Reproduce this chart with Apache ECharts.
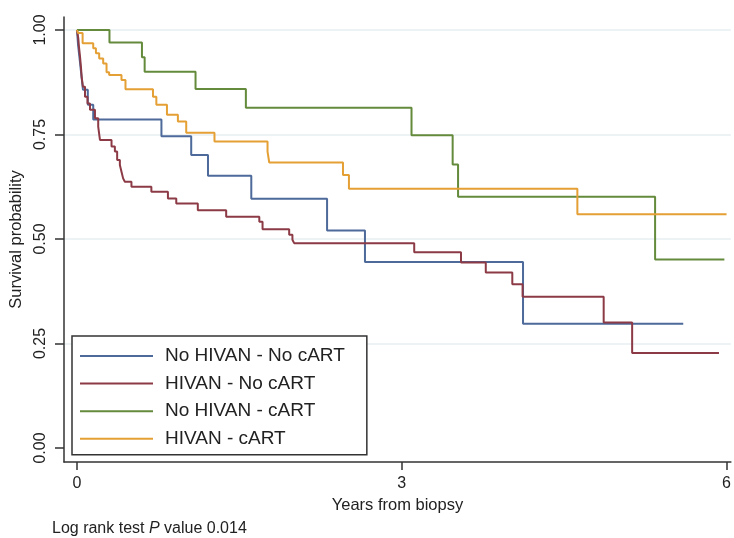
<!DOCTYPE html>
<html>
<head>
<meta charset="utf-8">
<script src="https://cdn.jsdelivr.net/npm/echarts@6/dist/echarts.min.js"></script>
<style>
html,body{margin:0;padding:0;background:#fff;}
#chart{width:734px;height:538px;}
</style>
</head>
<body>
<div id="chart"></div>
<script>
// Series names
var seriesNames = ['No HIVAN - No cART', 'HIVAN - No cART', 'No HIVAN - cART', 'HIVAN - cART'];

// Kaplan-Meier step data (time in years, survival after event)
var blueT = [0, 0.01, 0.025, 0.04, 0.055, 0.10, 0.15, 0.78, 1.055, 1.21, 1.61, 2.31, 2.66, 4.12, 5.60];
var blueS = [1.00, 0.964, 0.929, 0.893, 0.857, 0.821, 0.786, 0.746, 0.701, 0.651, 0.596, 0.520, 0.445, 0.297, 0.297];

var redT = [0, 0.012, 0.018, 0.028, 0.037, 0.043, 0.055, 0.074, 0.097, 0.12, 0.166, 0.196, 0.212, 0.319, 0.350, 0.371, 0.396, 0.411, 0.426, 0.442, 0.503, 0.687, 0.840, 0.917, 1.116, 1.378, 1.684, 1.714, 1.960, 1.990, 2.006, 3.115, 3.547, 3.776, 4.021, 4.116, 4.865, 5.128, 5.93];
var redS = [1.00, 0.98, 0.96, 0.936, 0.91, 0.888, 0.864, 0.840, 0.824, 0.809, 0.789, 0.769, 0.737, 0.721, 0.709, 0.689, 0.677, 0.661, 0.645, 0.637, 0.625, 0.613, 0.597, 0.585, 0.569, 0.553, 0.541, 0.523, 0.510, 0.498, 0.490, 0.468, 0.444, 0.420, 0.392, 0.362, 0.300, 0.227, 0.227];

var greenT = [0, 0.30, 0.60, 0.625, 1.095, 1.56, 3.09, 3.47, 3.52, 5.34, 5.98];
var greenS = [1.00, 0.970, 0.935, 0.900, 0.859, 0.814, 0.748, 0.678, 0.601, 0.451, 0.451];

var orangeT = [0, 0.009, 0.052, 0.150, 0.175, 0.205, 0.242, 0.273, 0.297, 0.411, 0.448, 0.702, 0.733, 0.831, 0.932, 1.009, 1.270, 1.760, 1.776, 2.457, 2.512, 4.622, 6.0];
var orangeS = [1.00, 0.993, 0.968, 0.956, 0.944, 0.932, 0.920, 0.899, 0.892, 0.880, 0.858, 0.840, 0.821, 0.797, 0.781, 0.754, 0.733, 0.709, 0.683, 0.653, 0.620, 0.559, 0.559];

// Axis ticks
var xTicks = [0, 3, 6];
var yTicks = [0, 0.25, 0.5, 0.75, 1.0];
var yGrid = [0.25, 0.5, 0.75, 1.0];

var colors = ['#4d6a9a', '#8c3b46', '#648a3c', '#e5a035'];

function pairs(t, s) { return t.map(function (v, i) { return [v, s[i]]; }); }

var allT = [blueT, redT, greenT, orangeT];
var allS = [blueS, redS, greenS, orangeS];

var series = [{
  name: '_grid',
  type: 'line',
  data: [],
  silent: true,
  z: 0,
  markLine: {
    silent: true,
    z: 0,
    symbol: ['none', 'none'],
    label: { show: false },
    lineStyle: { color: '#e7eef1', width: 1.5, type: 'solid' },
    data: yGrid.map(function (v) { return { yAxis: v }; })
  }
}];
seriesNames.forEach(function (n, i) {
  series.push({
    name: n,
    type: 'line',
    step: 'end',
    data: pairs(allT[i], allS[i]),
    showSymbol: false,
    symbol: 'none',
    z: 6,
    lineStyle: { color: colors[i], width: 2 },
    itemStyle: { color: colors[i] }
  });
});

var chart = echarts.init(document.getElementById('chart'));
chart.setOption({
  animation: false,
  backgroundColor: '#fff',
  textStyle: { fontFamily: 'Liberation Sans, Arial, sans-serif' },
  grid: { left: 64, right: 1, top: 17, bottom: 76 },
  title: {
    left: 47, top: 516,
    text: '{a|Log rank test }{b|P}{a| value 0.014}',
    textStyle: {
      fontWeight: 'normal',
      rich: {
        a: { fontSize: 16, color: '#222', fontWeight: 'normal', fontFamily: 'Liberation Sans, Arial, sans-serif' },
        b: { fontSize: 16, color: '#222', fontWeight: 'normal', fontStyle: 'italic', fontFamily: 'Liberation Sans, Arial, sans-serif' }
      }
    }
  },
  legend: {
    data: seriesNames,
    orient: 'vertical',
    left: 72, top: 336,
    z: 10,
    icon: 'rect',
    itemWidth: 73, itemHeight: 2,
    itemGap: 7.6,
    padding: [10, 22, 6, 8],
    borderColor: '#333',
    borderWidth: 1.5,
    backgroundColor: '#fff',
    textStyle: { fontSize: 19, color: '#222', lineHeight: 20, padding: [0, 0, 0, 7] }
  },
  xAxis: {
    type: 'value',
    min: -0.12, max: 6.04,
    name: 'Years from biopsy',
    nameLocation: 'middle',
    nameGap: 33,
    nameTextStyle: { fontSize: 16.5, color: '#222' },
    axisLine: { show: true, onZero: false, lineStyle: { color: '#333', width: 1.5 } },
    axisTick: { show: true, length: 8, customValues: xTicks, lineStyle: { color: '#333', width: 1.5 } },
    axisLabel: { customValues: xTicks, fontSize: 16, color: '#222', margin: 14 },
    splitLine: { show: false }
  },
  yAxis: {
    type: 'value',
    min: -0.0335, max: 1.031,
    name: 'Survival probability',
    nameLocation: 'middle',
    nameGap: 36,
    nameTextStyle: { fontSize: 16.5, color: '#222' },
    axisLine: { show: true, onZero: false, lineStyle: { color: '#333', width: 1.5 } },
    axisTick: { show: true, length: 9, customValues: yTicks, lineStyle: { color: '#333', width: 1.5 } },
    axisLabel: {
      customValues: yTicks, rotate: 90, fontSize: 16, color: '#222', margin: 15,
      formatter: function (v) { return v.toFixed(2); }
    },
    splitLine: { show: false }
  },
  series: series
});
</script>
</body>
</html>
